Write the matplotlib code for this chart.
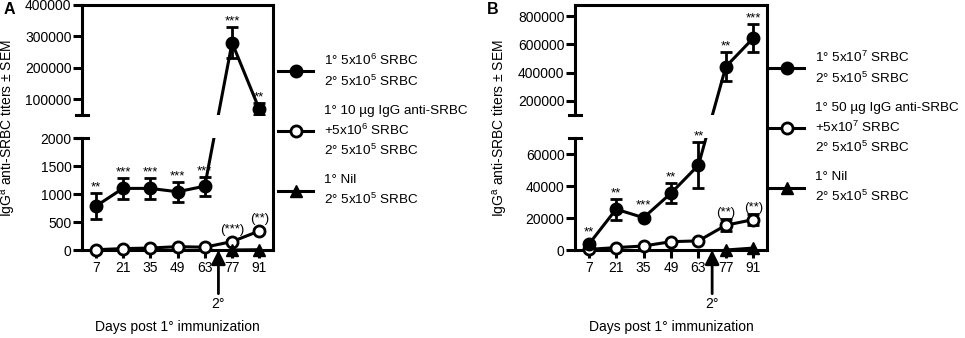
import matplotlib
matplotlib.use("Agg")
import matplotlib.pyplot as plt
from matplotlib.lines import Line2D

plt.rcParams["font.family"] = "Liberation Sans"
plt.rcParams["mathtext.fontset"] = "custom"
plt.rcParams["mathtext.rm"] = "Liberation Sans"
plt.rcParams["mathtext.it"] = "Liberation Sans:italic"

# ---- data ----
days = [7, 21, 35, 49, 63, 77, 91]
nil_days = [77, 91]
boost_day = 70

# panel A
a_imm_mean = [780, 1100, 1100, 1040, 1140, 280000, 68000]
a_imm_sem = [230, 185, 185, 175, 170, 50000, 19000]
a_imm_stars = ["**", "***", "***", "***", "***", "***", "**"]
a_ic_mean = [5, 25, 35, 60, 50, 150, 340]
a_ic_sem = [5, 10, 10, 10, 10, 30, 40]
a_ic_stars = ["", "", "", "", "", "(***)", "(**)"]
a_nil_mean = [0, 5]
a_labels = ["1° 5x10$^\\mathregular{6}$ SRBC\n2° 5x10$^\\mathregular{5}$ SRBC",
            "1° 10 µg IgG anti-SRBC\n+5x10$^\\mathregular{6}$ SRBC\n2° 5x10$^\\mathregular{5}$ SRBC",
            "1° Nil\n2° 5x10$^\\mathregular{5}$ SRBC"]

# panel B
b_imm_mean = [3500, 25500, 20200, 35500, 53000, 443000, 645000]
b_imm_sem = [1500, 6500, 0, 6300, 14300, 101000, 99000]
b_imm_stars = ["**", "**", "***", "**", "**", "**", "***"]
b_ic_mean = [400, 1500, 2500, 5200, 5700, 15500, 19000]
b_ic_sem = [100, 300, 300, 500, 500, 3800, 3600]
b_ic_stars = ["", "", "", "", "", "(**)", "(**)"]
b_nil_mean = [0, 1200]
b_labels = ["1° 5x10$^\\mathregular{7}$ SRBC\n2° 5x10$^\\mathregular{5}$ SRBC",
            "1° 50 µg IgG anti-SRBC\n+5x10$^\\mathregular{7}$ SRBC\n2° 5x10$^\\mathregular{5}$ SRBC",
            "1° Nil\n2° 5x10$^\\mathregular{5}$ SRBC"]

W, H = 965, 338
LW = 2.2
fig = plt.figure(figsize=(W / 100, H / 100), dpi=100)


def px_box(x0, x1, ytop, ybot):
    return [x0 / W, 1 - ybot / H, (x1 - x0) / W, (ybot - ytop) / H]


def to_other(src, dst, x, y):
    # move a data point of one axes into the data coords of the other one
    disp = src.transData.transform((x, y))
    return dst.transData.inverted().transform(disp)


def star_labels(ax, xs, ys, errs, stars):
    for x, y, e, s in zip(xs, ys, errs, stars):
        if not s:
            continue
        y0 = ax.transData.transform((x, y))[1]
        y1 = ax.transData.transform((x, y + e))[1]
        off = max((y1 - y0) * 0.72, 4.5) - 0.3
        ax.annotate(s, (x, y), xytext=(0, off), textcoords="offset points",
                    ha="center", va="bottom", fontsize=9.5)


def plot_series(ax_lo, ax_up, xs, mean, sem, stars, mfc, z):
    top = ax_lo.get_ylim()[1]
    lo = [i for i, m in enumerate(mean) if m <= top]
    up = [i for i, m in enumerate(mean) if m > top]
    for ax, idx, clip in ((ax_lo, lo, False), (ax_up, up, True)):
        if not idx:
            continue
        x = [xs[i] for i in idx]
        y = [mean[i] for i in idx]
        e = [sem[i] for i in idx]
        ax.errorbar(x, y, yerr=e, fmt="none", ecolor="k", elinewidth=2,
                    capsize=4.5, capthick=2, zorder=z)
        ax.plot(x, y, "-", color="k", lw=LW, marker="o", ms=8, mfc=mfc,
                mec="k", mew=2, clip_on=clip, zorder=z + 1)
        star_labels(ax, x, y, e, [stars[i] for i in idx])
    if lo and up:
        i, j = lo[-1], up[0]
        _, yj = to_other(ax_up, ax_lo, xs[j], mean[j])
        ax_lo.plot([xs[i], xs[j]], [mean[i], yj], color="k", lw=LW, zorder=z)
        _, yi = to_other(ax_lo, ax_up, xs[i], mean[i])
        ax_up.plot([xs[i], xs[j]], [yi, mean[j]], color="k", lw=LW, zorder=z)


def draw_panel(x0, x1, up_lim, up_ticks, lo_lim, lo_ticks, imm, ic, nil,
               labels, leg_x, leg_y, letter, letter_x, ylab_x):
    frame = fig.add_axes(px_box(x0, x1, 5, 250))
    frame.patch.set_visible(False)
    frame.set_xticks([])
    frame.set_yticks([])
    for side in ("left", "bottom"):
        frame.spines[side].set_visible(False)
    for side in ("top", "right"):
        frame.spines[side].set_linewidth(LW)

    ax_up = fig.add_axes(px_box(x0, x1, 5, 115))
    ax_lo = fig.add_axes(px_box(x0, x1, 138, 250))
    for ax in (ax_up, ax_lo):
        ax.patch.set_visible(False)
        ax.set_xlim(0, 98)
        for side in ("top", "right"):
            ax.spines[side].set_visible(False)
        ax.spines["left"].set_linewidth(LW)
        ax.spines["bottom"].set_linewidth(LW)
        ax.tick_params(axis="y", direction="out", length=6.5, width=LW,
                       labelsize=10, pad=1)
    ax_up.spines["bottom"].set_visible(False)
    ax_up.set_xticks([])
    ax_up.set_ylim(*up_lim)
    ax_up.set_yticks(up_ticks)
    ax_lo.set_ylim(*lo_lim)
    ax_lo.set_yticks(lo_ticks)
    ax_lo.set_xticks(days)
    ax_lo.tick_params(axis="x", direction="out", length=6, width=LW,
                      labelsize=10, pad=2)

    # caps at the axis break
    ax_up.plot([-0.03, 0.03], [0, 0], transform=ax_up.transAxes, color="k",
               lw=LW, clip_on=False)
    ax_lo.plot([-0.03, 0.03], [1, 1], transform=ax_lo.transAxes, color="k",
               lw=LW, clip_on=False)

    plot_series(ax_lo, ax_up, days, ic[0], ic[1], ic[2], "white", 3)
    ax_lo.plot(nil_days, nil, "-", color="k", lw=LW, marker="^", ms=8,
               clip_on=False, zorder=5)
    plot_series(ax_lo, ax_up, days, imm[0], imm[1], imm[2], "k", 6)

    ax_lo.annotate("", xy=(boost_day, 0), xytext=(boost_day, -0.39),
                   textcoords=("data", "axes fraction"),
                   arrowprops=dict(arrowstyle="-|>,head_length=0.6,head_width=0.3",
                                   color="k", lw=2, mutation_scale=14,
                                   shrinkA=0, shrinkB=0))
    ax_lo.text(boost_day, -0.48, "2°", transform=ax_lo.get_xaxis_transform(),
               ha="center", va="center", fontsize=10)
    ax_lo.text(0.5, -0.69, "Days post 1° immunization", transform=ax_lo.transAxes,
               ha="center", va="center", fontsize=10)

    fig.text(ylab_x / W, 1 - 128 / H, "IgG$^\\mathregular{a}$ anti-SRBC titers ± SEM",
             rotation=90, ha="center", va="center", fontsize=10)
    fig.text(letter_x / W, 1 - 10 / H, letter, fontsize=11.5, fontweight="bold",
             ha="center", va="center")

    handles = [Line2D([], [], color="k", lw=LW, marker="o", ms=8, mfc="k", mew=2),
               Line2D([], [], color="k", lw=LW, marker="o", ms=8, mfc="white", mew=2),
               Line2D([], [], color="k", lw=LW, marker="^", ms=8)]
    leg = fig.legend(handles, labels, loc="center left",
                     bbox_to_anchor=(leg_x / W, 1 - leg_y / H), frameon=False,
                     borderpad=0, borderaxespad=0, handlelength=2.6,
                     handletextpad=0.85, labelspacing=1.2, fontsize=9.7)
    for t in leg.get_texts():
        t.set_linespacing(1.45)


draw_panel(82, 273, (50000, 400000), [100000, 200000, 300000, 400000],
           (0, 2000), [0, 500, 1000, 1500, 2000],
           (a_imm_mean, a_imm_sem, a_imm_stars), (a_ic_mean, a_ic_sem, a_ic_stars),
           a_nil_mean, a_labels, 278, 130, "A", 9, 9)
draw_panel(575, 767, (100000, 880000), [200000, 400000, 600000, 800000],
           (0, 70000), [0, 20000, 40000, 60000],
           (b_imm_mean, b_imm_sem, b_imm_stars), (b_ic_mean, b_ic_sem, b_ic_stars),
           b_nil_mean, b_labels, 769, 127, "B", 493, 501)

fig.savefig("out.png", dpi=100)
